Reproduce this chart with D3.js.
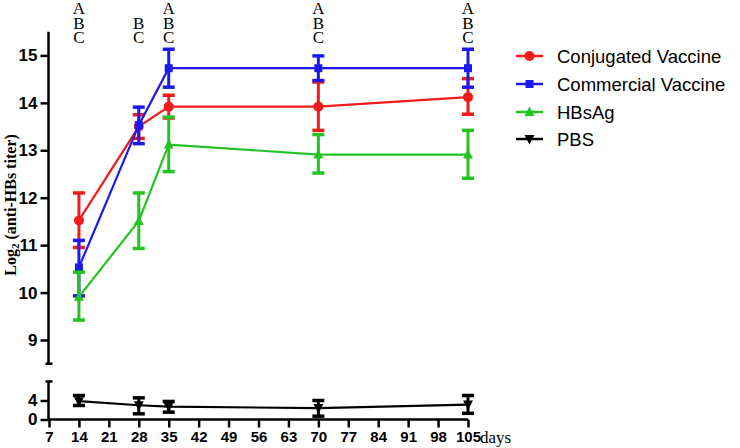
<!DOCTYPE html>
<html><head><meta charset="utf-8">
<script src="https://cdn.jsdelivr.net/npm/d3@7"></script>
<style>html,body{margin:0;padding:0;background:#fff;}svg{display:block;}</style>
</head><body>
<svg id="chart" width="740" height="448"></svg>
<script>
const days = [14, 28, 35, 70, 105];
const seriesNames = ["Conjugated Vaccine", "Commercial Vaccine", "HBsAg", "PBS"];
const conjugated   = [11.52, 13.50, 13.92, 13.92, 14.12];
const conjugatedLo = [10.95, 13.25, 13.68, 13.42, 13.76];
const conjugatedHi = [12.10, 13.75, 14.16, 14.44, 14.51];
const commercial   = [10.53, 13.53, 14.73, 14.73, 14.73];
const commercialLo = [9.93, 13.14, 14.33, 14.47, 14.33];
const commercialHi = [11.10, 13.91, 15.13, 14.99, 15.13];
const hbsag   = [9.91, 11.51, 13.12, 12.91, 12.91];
const hbsagLo = [9.42, 10.93, 12.55, 12.52, 12.41];
const hbsagHi = [10.43, 12.10, 13.70, 13.33, 13.42];
const pbs   = [3.85, 3.00, 2.70, 2.40, 3.15];
const pbsLo = [2.95, 1.20, 1.55, 0.70, 1.30];
const pbsHi = [5.05, 4.56, 3.80, 4.00, 5.05];
const xTicks = [7, 14, 21, 28, 35, 42, 49, 56, 63, 70, 77, 84, 91, 98, 105];
const yTicksUpper = [9, 10, 11, 12, 13, 14, 15];
const yTicksLower = [0, 4];
const sigLetters = [["A","B","C"], ["","B","C"], ["A","B","C"], ["A","B","C"], ["A","B","C"]];

const svg = d3.select("#chart");
const x = d3.scaleLinear().domain([7, 105]).range([49, 468]);
const yU = d3.scaleLinear().domain([8.5, 15.5]).range([363.7, 31.7]);
const yL = d3.scaleLinear().domain([0, 8]).range([419.5, 381.5]);
const axisX = 48.5;

const sans = "'Liberation Sans', Arial, sans-serif";
const serif = "'Liberation Serif', 'Times New Roman', serif";

const series = [
  {name: seriesNames[0], color: "#f21a1a", v: conjugated, lo: conjugatedLo, hi: conjugatedHi, y: yU, marker: "circle"},
  {name: seriesNames[1], color: "#1a1af0", v: commercial, lo: commercialLo, hi: commercialHi, y: yU, marker: "square"},
  {name: seriesNames[2], color: "#22c322", v: hbsag, lo: hbsagLo, hi: hbsagHi, y: yU, marker: "triangle"},
  {name: seriesNames[3], color: "#000000", v: pbs, lo: pbsLo, hi: pbsHi, y: yL, marker: "down"}
];

function drawMarker(g, type, cx, cy, color) {
  if (type === "circle") {
    g.append("circle").attr("cx", cx).attr("cy", cy).attr("r", 5).attr("fill", color);
  } else if (type === "square") {
    g.append("rect").attr("x", cx - 4).attr("y", cy - 4).attr("width", 8).attr("height", 8).attr("fill", color);
  } else if (type === "triangle") {
    g.append("path").attr("d", `M${cx},${cy-5.5}L${cx+5},${cy+4}L${cx-5},${cy+4}Z`).attr("fill", color);
  } else {
    g.append("path").attr("d", `M${cx},${cy+5.5}L${cx+5},${cy-4}L${cx-5},${cy-4}Z`).attr("fill", color);
  }
}

// Upper Y axis
const gU = svg.append("g").attr("transform", `translate(${axisX},0)`)
  .call(d3.axisLeft(yU).tickValues(yTicksUpper).tickSize(8).tickPadding(3).tickFormat(d3.format("d")));
gU.select(".domain").attr("d", `M0,${yU(15.5)}V${yU(8.5)}`).attr("stroke-width", 2.5);
gU.selectAll(".tick line").attr("stroke-width", 2.5);
gU.selectAll(".tick text").attr("font-family", sans).attr("font-weight", "bold").attr("font-size", 17).attr("fill", "#000");
svg.append("line").attr("x1", axisX - 3).attr("x2", axisX + 4).attr("y1", yU(8.5)).attr("y2", yU(8.5)).attr("stroke", "#000").attr("stroke-width", 2.5);

// Lower Y axis
const gL = svg.append("g").attr("transform", `translate(${axisX},0)`)
  .call(d3.axisLeft(yL).tickValues(yTicksLower).tickSize(8).tickPadding(3).tickFormat(d3.format("d")));
gL.select(".domain").attr("d", `M0,${yL(8)}V${yL(0)}`).attr("stroke-width", 2.5);
gL.selectAll(".tick line").attr("stroke-width", 2.5);
gL.selectAll(".tick text").attr("font-family", sans).attr("font-weight", "bold").attr("font-size", 17).attr("fill", "#000");
svg.append("line").attr("x1", axisX - 3).attr("x2", axisX + 4).attr("y1", yL(8)).attr("y2", yL(8)).attr("stroke", "#000").attr("stroke-width", 2.5);

// X axis
const gX = svg.append("g").attr("transform", `translate(0,${yL(0)})`)
  .call(d3.axisBottom(x).tickValues(xTicks).tickSize(8).tickPadding(4).tickFormat(d3.format("d")));
gX.select(".domain").attr("d", `M${axisX},0H${x(105)}`).attr("stroke-width", 2.5);
gX.selectAll(".tick line").attr("stroke-width", 2.5);
gX.selectAll(".tick text").attr("font-family", sans).attr("font-weight", "bold").attr("font-size", 15).attr("fill", "#000");

svg.append("text").attr("x", 480).attr("y", 443).attr("font-family", serif).attr("font-size", 17).text("days");

// Y title
const yt = svg.append("text").attr("transform", "translate(16,205) rotate(-90)")
  .attr("text-anchor", "middle").attr("font-family", serif).attr("font-weight", "bold").attr("font-size", 16);
yt.append("tspan").text("Log");
yt.append("tspan").attr("font-size", 11).attr("dy", 3).text("2");
yt.append("tspan").attr("dy", -3).text(" (anti-HBs titer)");

// Series
series.forEach(s => {
  const g = svg.append("g");
  const line = d3.line().x((d, i) => x(days[i])).y(d => s.y(d));
  g.append("path").datum(s.v).attr("d", line).attr("fill", "none").attr("stroke", s.color).attr("stroke-width", 2.2);
  days.forEach((d, i) => {
    const cx = x(d);
    g.append("line").attr("x1", cx).attr("x2", cx).attr("y1", s.y(s.lo[i])).attr("y2", s.y(s.hi[i]))
      .attr("stroke", s.color).attr("stroke-width", 3);
    [s.lo[i], s.hi[i]].forEach(v => {
      g.append("line").attr("x1", cx - 6).attr("x2", cx + 6).attr("y1", s.y(v)).attr("y2", s.y(v))
        .attr("stroke", s.color).attr("stroke-width", 3.5);
    });
    drawMarker(g, s.marker, cx, s.y(s.v[i]), s.color);
  });
});

// Significance letters
days.forEach((d, i) => {
  sigLetters[i].forEach((l, j) => {
    if (!l) return;
    svg.append("text").attr("x", x(d)).attr("y", 14 + j * 14.6).attr("text-anchor", "middle")
      .attr("font-family", serif).attr("font-size", 17).text(l);
  });
});

// Legend
const legY = [56, 84, 112, 139];
series.forEach((s, i) => {
  const g = svg.append("g");
  g.append("line").attr("x1", 516).attr("x2", 543).attr("y1", legY[i]).attr("y2", legY[i])
    .attr("stroke", s.color).attr("stroke-width", 2.5);
  drawMarker(g, s.marker, 529.5, legY[i], s.color);
  g.append("text").attr("x", 557).attr("y", legY[i] + 6.5).attr("font-family", sans).attr("font-size", 18.5)
    .attr("fill", "#000").text(s.name);
});
</script>
</body></html>
